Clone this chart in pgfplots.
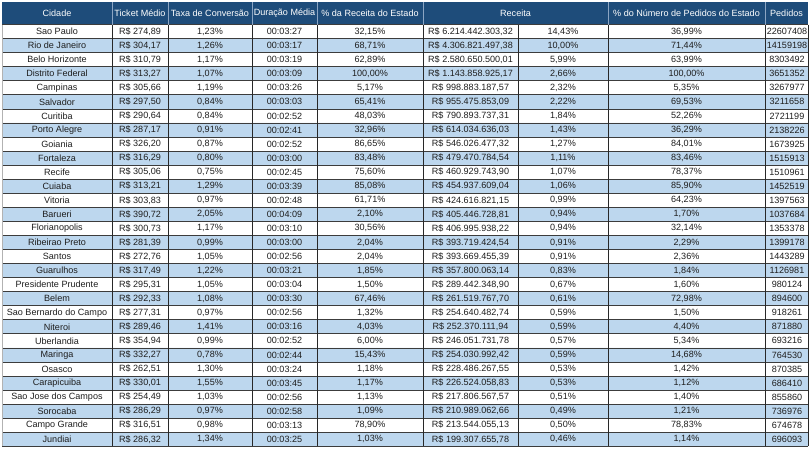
\documentclass[border=0pt]{standalone}
\usepackage{pgfplots}
\pgfplotsset{compat=1.18}
\usepackage{pgfplotstable}
\usepackage{fontspec}
\setmainfont{Liberation Sans}
\definecolor{hdr}{RGB}{30,76,122}
\definecolor{hdrline}{RGB}{140,165,195}
\definecolor{rowblue}{RGB}{189,215,238}
\definecolor{txt}{RGB}{30,30,30}
\definecolor{hline}{RGB}{60,60,60}
\definecolor{vline}{RGB}{40,40,40}

\pgfplotstableread[col sep=semicolon]{
i;city;ticket;taxa;dur;prec;rec;recp;pped;ped
0;Sao Paulo;R\$ 274,89;1,23\%;00:03:27;32,15\%;R\$ 6.214.442.303,32;14,43\%;36,99\%;22607408
1;Rio de Janeiro;R\$ 304,17;1,26\%;00:03:17;68,71\%;R\$ 4.306.821.497,38;10,00\%;71,44\%;14159198
2;Belo Horizonte;R\$ 310,79;1,17\%;00:03:19;62,89\%;R\$ 2.580.650.500,01;5,99\%;63,99\%;8303492
3;Distrito Federal;R\$ 313,27;1,07\%;00:03:09;100,00\%;R\$ 1.143.858.925,17;2,66\%;100,00\%;3651352
4;Campinas;R\$ 305,66;1,19\%;00:03:26;5,17\%;R\$ 998.883.187,57;2,32\%;5,35\%;3267977
5;Salvador;R\$ 297,50;0,84\%;00:03:03;65,41\%;R\$ 955.475.853,09;2,22\%;69,53\%;3211658
6;Curitiba;R\$ 290,64;0,84\%;00:02:52;48,03\%;R\$ 790.893.737,31;1,84\%;52,26\%;2721199
7;Porto Alegre;R\$ 287,17;0,91\%;00:02:41;32,96\%;R\$ 614.034.636,03;1,43\%;36,29\%;2138226
8;Goiania;R\$ 326,20;0,87\%;00:02:52;86,65\%;R\$ 546.026.477,32;1,27\%;84,01\%;1673925
9;Fortaleza;R\$ 316,29;0,80\%;00:03:00;83,48\%;R\$ 479.470.784,54;1,11\%;83,46\%;1515913
10;Recife;R\$ 305,06;0,75\%;00:02:45;75,60\%;R\$ 460.929.743,90;1,07\%;78,37\%;1510961
11;Cuiaba;R\$ 313,21;1,29\%;00:03:39;85,08\%;R\$ 454.937.609,04;1,06\%;85,90\%;1452519
12;Vitoria;R\$ 303,83;0,97\%;00:02:48;61,71\%;R\$ 424.616.821,15;0,99\%;64,23\%;1397563
13;Barueri;R\$ 390,72;2,05\%;00:04:09;2,10\%;R\$ 405.446.728,81;0,94\%;1,70\%;1037684
14;Florianopolis;R\$ 300,73;1,17\%;00:03:10;30,56\%;R\$ 406.995.938,22;0,94\%;32,14\%;1353378
15;Ribeirao Preto;R\$ 281,39;0,99\%;00:03:00;2,04\%;R\$ 393.719.424,54;0,91\%;2,29\%;1399178
16;Santos;R\$ 272,76;1,05\%;00:02:56;2,04\%;R\$ 393.669.455,39;0,91\%;2,36\%;1443289
17;Guarulhos;R\$ 317,49;1,22\%;00:03:21;1,85\%;R\$ 357.800.063,14;0,83\%;1,84\%;1126981
18;Presidente Prudente;R\$ 295,31;1,05\%;00:03:04;1,50\%;R\$ 289.442.348,90;0,67\%;1,60\%;980124
19;Belem;R\$ 292,33;1,08\%;00:03:30;67,46\%;R\$ 261.519.767,70;0,61\%;72,98\%;894600
20;Sao Bernardo do Campo;R\$ 277,31;0,97\%;00:02:56;1,32\%;R\$ 254.640.482,74;0,59\%;1,50\%;918261
21;Niteroi;R\$ 289,46;1,41\%;00:03:16;4,03\%;R\$ 252.370.111,94;0,59\%;4,40\%;871880
22;Uberlandia;R\$ 354,94;0,99\%;00:02:52;6,00\%;R\$ 246.051.731,78;0,57\%;5,34\%;693216
23;Maringa;R\$ 332,27;0,78\%;00:02:44;15,43\%;R\$ 254.030.992,42;0,59\%;14,68\%;764530
24;Osasco;R\$ 262,51;1,30\%;00:03:24;1,18\%;R\$ 228.486.267,55;0,53\%;1,42\%;870385
25;Carapicuiba;R\$ 330,01;1,55\%;00:03:45;1,17\%;R\$ 226.524.058,83;0,53\%;1,12\%;686410
26;Sao Jose dos Campos;R\$ 254,49;1,03\%;00:02:56;1,13\%;R\$ 217.806.567,57;0,51\%;1,40\%;855860
27;Sorocaba;R\$ 286,29;0,97\%;00:02:58;1,09\%;R\$ 210.989.062,66;0,49\%;1,21\%;736976
28;Campo Grande;R\$ 316,51;0,98\%;00:03:13;78,90\%;R\$ 213.544.055,13;0,50\%;78,83\%;674678
29;Jundiai;R\$ 286,32;1,34\%;00:03:25;1,03\%;R\$ 199.307.655,78;0,46\%;1,14\%;696093
}\datatable

\pgfplotstableread[col sep=semicolon]{
x;lab
55;Cidade
138;Ticket Médio
208;Taxa de Conversão
282.5;Duração Média
368;\% da Receita do Estado
513.5;Receita
684.5;\% do Número de Pedidos do Estado
784.5;Pedidos
}\headtable

\begin{document}
\begin{tikzpicture}
\begin{axis}[
  scale only axis, width=809bp, height=454bp,
  xmin=-2, xmax=807, ymin=-1.7425, ymax=30.548, y dir=reverse,
  hide axis, clip=false,
  every node near coord/.append style={font=\fontsize{9.1}{10}\selectfont, text=txt, anchor=center, inner sep=0pt},
]
% frame to fix the picture's size
\addplot[draw=none, mark=none] coordinates {(-2,-1.7425) (807,30.548)};
% header band
\addplot[xbar, bar width=1.6, bar shift=0pt, fill=hdr, draw=none] coordinates {(806,-0.8)};
% alternating row shading
\addplot[xbar, bar width=1, bar shift=0pt, fill=rowblue, draw=none] coordinates {
(806,1.5) (806,3.5) (806,5.5) (806,7.5) (806,9.5) (806,11.5) (806,13.5) (806,15.5)
(806,17.5) (806,19.5) (806,21.5) (806,23.5) (806,25.5) (806,27.5) (806,29.5)};
% horizontal rules
\addplot[xcomb, mark=none, color=hline, line width=0.7bp] coordinates {
(806,0) (806,1) (806,2) (806,3) (806,4) (806,5) (806,6) (806,7) (806,8) (806,9) (806,10)
(806,11) (806,12) (806,13) (806,14) (806,15) (806,16) (806,17) (806,18) (806,19) (806,20)
(806,21) (806,22) (806,23) (806,24) (806,25) (806,26) (806,27) (806,28) (806,29) (806,30)};
% vertical rules in body
\addplot[ycomb, mark=none, color=vline, line width=0.9bp] coordinates {
(110,30) (166,30) (250,30) (315,30) (421,30) (516,30) (606,30) (763,30) (806,30)};
\addplot[ycomb, mark=none, color=gray!60, line width=0.6bp] coordinates {(0,30)};
% header separators
\addplot[ycomb, mark=none, color=hdrline, line width=0.5bp] coordinates {
(110,-1.6) (166,-1.6) (250,-1.6) (315,-1.6) (421,-1.6) (606,-1.6) (763,-1.6)};
% header labels
\addplot[only marks, mark=none, nodes near coords, point meta=explicit symbolic,
  every node near coord/.append style={text=white}]
  table[x=x, y expr=-0.8, meta=lab] {\headtable};
% body text
\addplot[only marks, mark=none, nodes near coords, point meta=explicit symbolic]
  table[x expr=55, y expr=\thisrow{i}+0.5, meta=city] {\datatable};
\addplot[only marks, mark=none, nodes near coords, point meta=explicit symbolic]
  table[x expr=138, y expr=\thisrow{i}+0.5, meta=ticket] {\datatable};
\addplot[only marks, mark=none, nodes near coords, point meta=explicit symbolic]
  table[x expr=208, y expr=\thisrow{i}+0.5, meta=taxa] {\datatable};
\addplot[only marks, mark=none, nodes near coords, point meta=explicit symbolic]
  table[x expr=282.5, y expr=\thisrow{i}+0.5, meta=dur] {\datatable};
\addplot[only marks, mark=none, nodes near coords, point meta=explicit symbolic]
  table[x expr=368, y expr=\thisrow{i}+0.5, meta=prec] {\datatable};
\addplot[only marks, mark=none, nodes near coords, point meta=explicit symbolic]
  table[x expr=468.5, y expr=\thisrow{i}+0.5, meta=rec] {\datatable};
\addplot[only marks, mark=none, nodes near coords, point meta=explicit symbolic]
  table[x expr=561, y expr=\thisrow{i}+0.5, meta=recp] {\datatable};
\addplot[only marks, mark=none, nodes near coords, point meta=explicit symbolic]
  table[x expr=684.5, y expr=\thisrow{i}+0.5, meta=pped] {\datatable};
\addplot[only marks, mark=none, nodes near coords, point meta=explicit symbolic]
  table[x expr=785, y expr=\thisrow{i}+0.5, meta=ped] {\datatable};
\end{axis}
\end{tikzpicture}
\end{document}
